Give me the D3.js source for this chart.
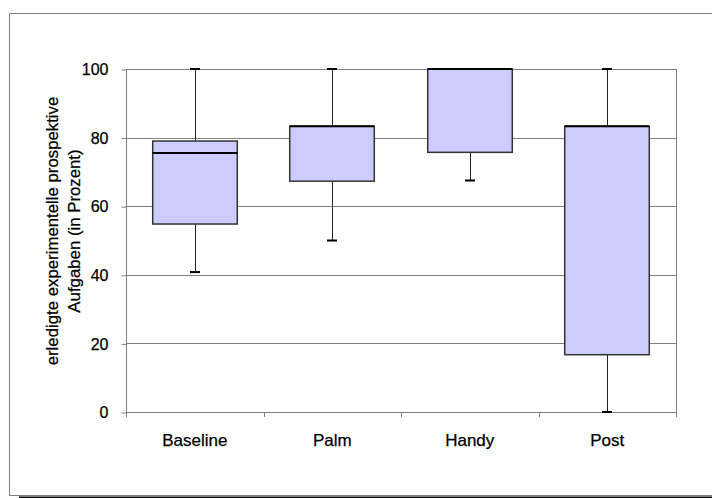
<!DOCTYPE html>
<html>
<head>
<meta charset="utf-8">
<script src="https://cdn.jsdelivr.net/npm/d3@7"></script>
<style>
    body { margin: 0; background: #fff; }
    svg text { font-family: "Liberation Sans", Arial, sans-serif; fill: #000; stroke: #000; stroke-width: 0.25px; }
</style>
</head>
<body>
<div id="chart"></div>
<script>
    const categories = ["Baseline", "Palm", "Handy", "Post"];
    const whiskerLow = [40.8, 50, 67.5, 0];
    const q1 = [54.8, 67.3, 75.7, 16.7];
    const median = [75.5, 83.3, 100, 83.3];
    const q3 = [79, 83.3, 100, 83.3];
    const whiskerHigh = [100, 100, 100, 100];
    const yTicks = [0, 20, 40, 60, 80, 100];
    const yTitle = ["erledigte experimentelle prospektive", "Aufgaben (in Prozent)"];

    const width = 712, height = 498;
    const plot = { left: 126, right: 676, top: 69, bottom: 412 };

    const svg = d3.select("#chart").append("svg")
        .attr("width", width)
        .attr("height", height);

    // outer chart frame with shadow
    svg.append("line")
        .attr("x1", 19).attr("x2", width).attr("y1", 497.5).attr("y2", 497.5)
        .attr("stroke", "#000").attr("stroke-width", 2);
    svg.append("path")
        .attr("d", `M${width + 2},13.5 H9.5 V495.5 H${width + 2}`)
        .attr("fill", "none")
        .attr("stroke", "#808080");

    const x = d3.scaleBand()
        .domain(categories)
        .range([plot.left, plot.right]);

    const y = d3.scaleLinear()
        .domain([0, 100])
        .range([plot.bottom, plot.top]);

    // gridlines
    svg.append("g")
        .selectAll("line")
        .data(yTicks)
        .enter().append("line")
        .attr("x1", plot.left).attr("x2", plot.right)
        .attr("y1", d => Math.round(y(d)) + 0.5)
        .attr("y2", d => Math.round(y(d)) + 0.5)
        .attr("stroke", "#808080");

    svg.append("line")
        .attr("x1", plot.right + 0.5).attr("x2", plot.right + 0.5)
        .attr("y1", plot.top).attr("y2", plot.bottom)
        .attr("stroke", "#808080");

    // y axis
    const yAxis = d3.axisLeft(y)
        .tickValues(yTicks)
        .tickSize(5)
        .tickPadding(13)
        .tickFormat(d3.format("d"));

    const yg = svg.append("g")
        .attr("transform", `translate(${plot.left + 0.5},0.5)`)
        .call(yAxis);
    yg.select(".domain").remove();
    yg.selectAll(".tick line").attr("stroke", "#808080");
    yg.selectAll(".tick text")
        .style("font-size", "16px")
        .attr("dy", "0.33em");

    svg.append("line")
        .attr("x1", plot.left + 0.5).attr("x2", plot.left + 0.5)
        .attr("y1", plot.top).attr("y2", plot.bottom + 5)
        .attr("stroke", "#808080");

    // x axis: ticks at category boundaries
    const bounds = categories.map(c => x(c)).concat([plot.right]);
    svg.append("g")
        .selectAll("line")
        .data(bounds)
        .enter().append("line")
        .attr("x1", d => Math.round(d) + 0.5).attr("x2", d => Math.round(d) + 0.5)
        .attr("y1", plot.bottom).attr("y2", plot.bottom + 5)
        .attr("stroke", "#808080");

    svg.append("g")
        .selectAll("text")
        .data(categories)
        .enter().append("text")
        .attr("x", d => x(d) + x.bandwidth() / 2)
        .attr("y", 446)
        .attr("text-anchor", "middle")
        .style("font-size", "17px")
        .text(d => d);

    // y axis title
    svg.append("text")
        .attr("transform", "translate(58,231) rotate(-90)")
        .attr("text-anchor", "middle")
        .style("font-size", "16.8px")
        .selectAll("tspan")
        .data(yTitle)
        .enter().append("tspan")
        .attr("x", 0)
        .attr("dy", (d, i) => i === 0 ? 0 : 22)
        .text(d => d);

    // boxes
    const boxWidth = x.bandwidth() * 0.615;
    const capWidth = 10;
    const boxes = svg.append("g")
        .selectAll("g")
        .data(categories.map((c, i) => ({
            name: c, lo: whiskerLow[i], q1: q1[i], med: median[i], q3: q3[i], hi: whiskerHigh[i]
        })))
        .enter().append("g")
        .attr("transform", d => `translate(${Math.round(x(d.name) + x.bandwidth() / 2)},0)`);

    // whiskers
    boxes.append("line")
        .attr("x1", 0.5).attr("x2", 0.5)
        .attr("y1", d => y(d.hi)).attr("y2", d => y(d.lo))
        .attr("stroke", "#222");

    boxes.append("line")
        .attr("x1", -capWidth / 2).attr("x2", capWidth / 2)
        .attr("y1", d => y(d.hi)).attr("y2", d => y(d.hi))
        .attr("stroke", "#000").attr("stroke-width", 2);

    boxes.append("line")
        .attr("x1", -capWidth / 2).attr("x2", capWidth / 2)
        .attr("y1", d => y(d.lo)).attr("y2", d => y(d.lo))
        .attr("stroke", "#000").attr("stroke-width", 2);

    boxes.append("rect")
        .attr("x", -boxWidth / 2)
        .attr("width", boxWidth)
        .attr("y", d => y(d.q3))
        .attr("height", d => y(d.q1) - y(d.q3))
        .attr("fill", "#ccccff")
        .attr("stroke", "#333")
        .attr("stroke-width", 1.5);

    boxes.append("line")
        .attr("x1", -boxWidth / 2).attr("x2", boxWidth / 2)
        .attr("y1", d => y(d.med)).attr("y2", d => y(d.med))
        .attr("stroke", "#000").attr("stroke-width", 2);
</script>
</body>
</html>
